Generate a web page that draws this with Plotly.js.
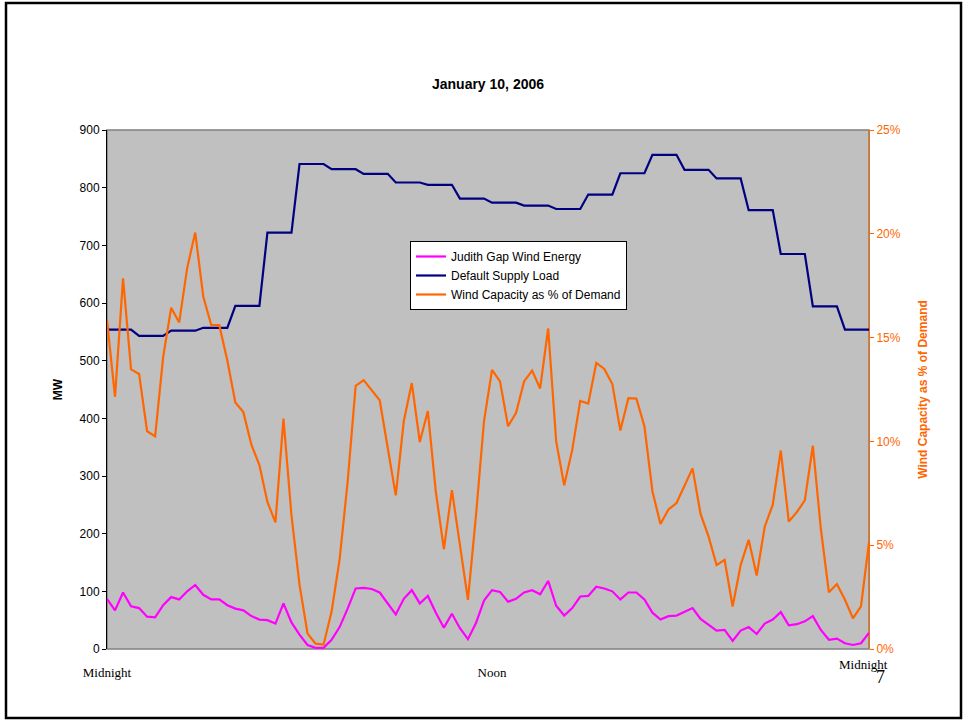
<!DOCTYPE html>
<html>
<head>
<meta charset="utf-8">
<script src="https://cdn.plot.ly/plotly-3.0.1.min.js"></script>
<style>html,body{margin:0;padding:0;background:#fff;}#chart{width:964px;height:721px;}</style>
</head>
<body>
<div id="chart"></div>
<script>
// 15-minute intervals across the day (index 0 = midnight)
const intervals = Array.from({length: 96}, (_, i) => i);

const windEnergyMW = [
  87, 67, 98, 74, 71, 56, 55, 76, 90, 86, 100, 111, 94, 86, 86, 76,
  70, 67, 57, 51, 50, 44, 79, 46, 25, 7, 2, 2, 16, 38, 70, 105,
  106, 104, 98, 80, 60, 87, 102, 79, 92, 63, 37, 61, 36, 17, 45, 84,
  102, 99, 82, 87, 98, 102, 95, 118, 75, 58, 71, 91, 92, 108, 105, 100,
  86, 98, 98, 86, 63, 51, 57, 58, 64, 71, 52, 42, 32, 33, 14, 32,
  38, 26, 44, 51, 64, 41, 43, 48, 57, 33, 16, 18, 10, 7, 10, 28
];

const supplyLoadMW = [
  554, 554, 554, 554, 543, 543, 543, 543, 552, 552, 552, 552, 557, 557, 557, 557,
  595, 595, 595, 595, 722, 722, 722, 722, 841, 841, 841, 841, 832, 832, 832, 832,
  824, 824, 824, 824, 809, 809, 809, 809, 805, 805, 805, 805, 781, 781, 781, 781,
  774, 774, 774, 774, 769, 769, 769, 769, 763, 763, 763, 763, 788, 788, 788, 788,
  825, 825, 825, 825, 857, 857, 857, 857, 831, 831, 831, 831, 816, 816, 816, 816,
  761, 761, 761, 761, 685, 685, 685, 685, 594, 594, 594, 594, 554, 554, 554, 554
];

const windPctOfDemand = [
  15.84, 12.15, 17.85, 13.47, 13.25, 10.49, 10.24, 14.06, 16.44, 15.73, 18.36, 20.06, 16.98, 15.6, 15.6, 13.9,
  11.87, 11.41, 9.84, 8.86, 7.08, 6.1, 11.1, 6.43, 3.1, 0.75, 0.26, 0.21, 1.8, 4.32, 8.05, 12.68,
  12.95, 12.47, 11.98, 9.68, 7.4, 10.97, 12.81, 9.97, 11.46, 7.56, 4.81, 7.65, 4.97, 2.37, 6.43, 10.97,
  13.44, 12.89, 10.73, 11.38, 12.89, 13.41, 12.55, 15.44, 10.0, 7.89, 9.59, 11.95, 11.82, 13.78, 13.49, 12.76,
  10.52, 12.08, 12.06, 10.73, 7.6, 6.02, 6.72, 7.03, 7.86, 8.7, 6.51, 5.41, 4.04, 4.29, 2.05, 4.04,
  5.26, 3.54, 5.89, 6.95, 9.56, 6.14, 6.59, 7.16, 9.79, 5.78, 2.73, 3.13, 2.37, 1.48, 2.05, 5.13
];

const xTickVals = [0, 48];
const xTickText = ['Midnight', 'Noon'];
const leftTicks = [0, 100, 200, 300, 400, 500, 600, 700, 800, 900];
const rightTicks = [0, 5, 10, 15, 20, 25];

const ORANGE = '#FF6600';
const SANS = 'Liberation Sans, Arial, sans-serif';
const SERIF = 'Liberation Serif, Times New Roman, serif';

const traces = [
  {x: intervals, y: windEnergyMW, name: 'Judith Gap Wind Energy', type: 'scatter', mode: 'lines',
   line: {color: '#FF00FF', width: 2.2}, yaxis: 'y'},
  {x: intervals, y: supplyLoadMW, name: 'Default Supply Load', type: 'scatter', mode: 'lines',
   line: {color: '#000080', width: 2.2}, yaxis: 'y'},
  {x: intervals, y: windPctOfDemand, name: 'Wind Capacity as % of Demand', type: 'scatter', mode: 'lines',
   line: {color: ORANGE, width: 2.2}, yaxis: 'y2'}
];

const layout = {
  width: 964, height: 721,
  margin: {l: 107, r: 95, t: 130, b: 72, pad: 0},
  paper_bgcolor: '#FFFFFF',
  plot_bgcolor: '#C0C0C0',
  showlegend: true,
  title: {text: '<b>January 10, 2006</b>', font: {family: SANS, size: 14, color: '#000'},
          x: 0.5, xanchor: 'center', xref: 'paper', y: 1 - 84/721, yanchor: 'middle', yref: 'container'},
  xaxis: {range: [0, 95], tickvals: xTickVals, ticktext: xTickText, showgrid: false, zeroline: false,
          showline: false, ticks: '', ticklabelstandoff: 14,
          tickfont: {family: SERIF, size: 13, color: '#000'}},
  yaxis: {range: [0, 900], tickvals: leftTicks, showgrid: false, zeroline: false,
          showline: true, linecolor: '#000', linewidth: 1, ticks: 'outside', ticklen: 4, tickcolor: '#000',
          tickfont: {family: SANS, size: 12, color: '#000'},
          title: {text: '<b>MW</b>', font: {family: SANS, size: 12, color: '#000'}, standoff: 14}},
  yaxis2: {range: [0, 25], tickvals: rightTicks, ticktext: rightTicks.map(v => v + '%'),
           overlaying: 'y', side: 'right', showgrid: false, zeroline: false,
           showline: true, linecolor: ORANGE, linewidth: 1, ticks: 'outside', ticklen: 4, tickcolor: ORANGE,
           tickfont: {family: SANS, size: 12, color: ORANGE},
           title: {text: '<b>Wind Capacity as % of Demand</b>', font: {family: SANS, size: 12, color: ORANGE}, standoff: 18}},
  legend: {x: (410 - 107) / 762, y: (649 - 241) / 519, xanchor: 'left', yanchor: 'top',
           bgcolor: '#FFFFFF', bordercolor: '#000', borderwidth: 1,
           font: {family: SANS, size: 12, color: '#000'}, itemwidth: 30, tracegroupgap: 0},
  shapes: [
    {type: 'rect', xref: 'paper', yref: 'paper', x0: 0, x1: 1, y0: 0, y1: 1,
     line: {color: '#808080', width: 1.5}, layer: 'below'},
    {type: 'rect', xref: 'paper', yref: 'paper',
     x0: -101/762, x1: 1 + 92/762, y0: -69/519, y1: 1 + 127/519,
     line: {color: '#000', width: 2.5}, fillcolor: 'rgba(0,0,0,0)'}
  ],
  annotations: [
    {text: 'Midnight', xref: 'x', yref: 'paper', x: 94.3, y: -15/519, xanchor: 'center', yanchor: 'middle',
     showarrow: false, font: {family: SERIF, size: 13, color: '#000'}},
    {text: '7', xref: 'paper', yref: 'paper', x: (880 - 107) / 762, y: (649 - 677) / 519, xanchor: 'center', yanchor: 'middle',
     showarrow: false, font: {family: SERIF, size: 18, color: '#000'}}
  ]
};

Plotly.newPlot('chart', traces, layout, {displayModeBar: false, staticPlot: true});
</script>
</body>
</html>
